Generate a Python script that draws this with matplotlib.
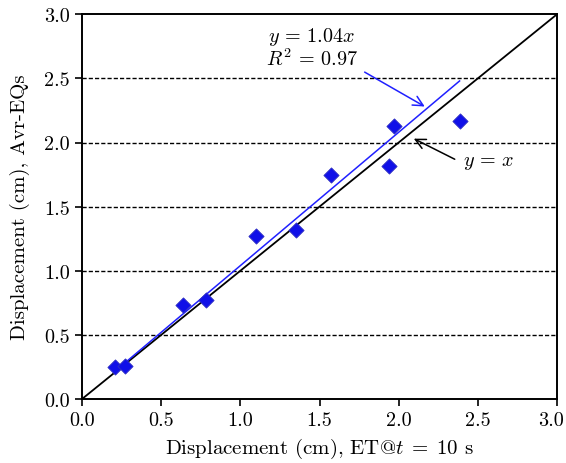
import numpy as np
import matplotlib.pyplot as plt
import matplotlib.transforms as mtransforms

plt.rcParams['font.family'] = 'serif'
plt.rcParams['font.serif'] = ['cmr10', 'DejaVu Serif']
plt.rcParams['mathtext.fontset'] = 'cm'
plt.rcParams['axes.formatter.use_mathtext'] = True

# data
disp_et = [0.21, 0.27, 0.64, 0.78, 1.10, 1.35, 1.57, 1.94, 1.97, 2.39]
disp_avr = [0.25, 0.26, 0.73, 0.77, 1.27, 1.32, 1.75, 1.82, 2.13, 2.17]
slope = 1.04
fit_range = [0.20, 2.385]
ticks = [0.0, 0.5, 1.0, 1.5, 2.0, 2.5, 3.0]

fig = plt.figure(figsize=(5.66, 4.64), dpi=100)
ax = fig.add_axes([0.145, 0.138, 0.839, 0.829])

# dashed horizontal grid
for yv in ticks[1:-1]:
    ax.axhline(yv, color='black', ls=(0, (3, 1.5)), lw=1.0, zorder=1)

# y = x line
ax.plot([0, 3], [0, 3], color='black', lw=1.3, zorder=2)

# fitted line
xf = np.array(fit_range)
ax.plot(xf, slope * xf, color='#2020ff', lw=1.1, zorder=3)

ax.scatter(disp_et, disp_avr, marker='D', s=60, color='#1010e8',
           edgecolors='#3030c0', linewidths=0.6, zorder=4)

# annotations
ax.annotate('', xy=(2.18, 2.27), xytext=(1.77, 2.56),
            arrowprops=dict(arrowstyle='->', color='#2020ff', lw=1.1,
                            mutation_scale=18))
ax.text(1.45, 2.83, r'$y\,=\,1.04x$', ha='center', va='center', fontsize=14.5)
ax.text(1.45, 2.66, r'$R^2\,=\,0.97$', ha='center', va='center', fontsize=14.5)

ax.annotate('', xy=(2.08, 2.04), xytext=(2.37, 1.86),
            arrowprops=dict(arrowstyle='->', color='black', lw=1.1,
                            mutation_scale=18))
ax.text(2.57, 1.85, r'$y\,=\,x$', ha='center', va='center', fontsize=14.5)

ax.set_xlim(0, 3)
ax.set_ylim(0, 3)
ax.set_xticks(ticks)
ax.set_yticks(ticks)
ax.set_xticklabels([f'{t:.1f}' for t in ticks])
ax.set_yticklabels([f'{t:.1f}' for t in ticks])
ax.tick_params(direction='out', length=5, width=1.2, pad=4, labelsize=14.5,
               colors='black')
for sp in ax.spines.values():
    sp.set_linewidth(1.4)

# keep the last x tick label inside the figure
last = ax.get_xticklabels()[-1]
last.set_transform(last.get_transform() +
                   mtransforms.ScaledTranslation(-6 / 100, 0, fig.dpi_scale_trans))

ax.set_xlabel(r'Displacement (cm), ET@$t\;=\;10$ s', fontsize=15, labelpad=5)
ax.set_ylabel('Displacement (cm), Avr-EQs', fontsize=15, labelpad=10)

fig.savefig('out.png', dpi=100)
